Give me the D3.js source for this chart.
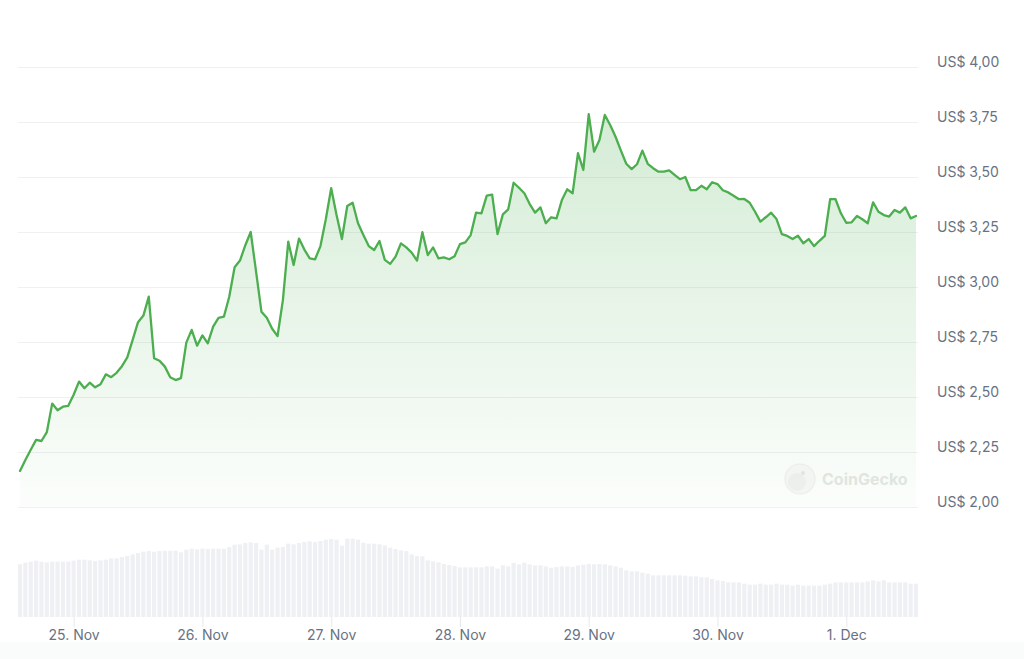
<!DOCTYPE html>
<html>
<head>
<meta charset="utf-8">
<script src="https://cdn.jsdelivr.net/npm/d3@7"></script>
<style>
  html, body { margin: 0; padding: 0; background: #ffffff; }
  svg { display: block; font-family: Inter, "Noto Sans", sans-serif; }
</style>
</head>
<body>
<svg id="chart" width="1024" height="659"></svg>
<script>
// ---------- DATA ----------
const startTime = "2024-11-24T14:00:00"; // first hourly sample
const prices = [
  2.164, 2.214, 2.26, 2.305, 2.30, 2.34, 2.47, 2.44, 2.456, 2.46,
  2.51, 2.57, 2.54, 2.565, 2.544, 2.558, 2.603, 2.59, 2.61, 2.64,
  2.68, 2.76, 2.84, 2.87, 2.956, 2.676, 2.665, 2.638, 2.59, 2.577,
  2.586, 2.747, 2.805, 2.733, 2.78, 2.744, 2.82, 2.86, 2.865, 2.956,
  3.09, 3.12, 3.19, 3.25, 3.07, 2.888, 2.86, 2.81, 2.777, 2.94,
  3.206, 3.10, 3.22, 3.17, 3.13, 3.126, 3.186, 3.308, 3.449, 3.327,
  3.218, 3.368, 3.383, 3.29, 3.236, 3.186, 3.168, 3.209, 3.123, 3.105,
  3.138, 3.198, 3.18, 3.156, 3.12, 3.249, 3.145, 3.18, 3.13, 3.135,
  3.126, 3.14, 3.195, 3.203, 3.236, 3.338, 3.335, 3.415, 3.42, 3.24,
  3.33, 3.353, 3.474, 3.451, 3.426, 3.377, 3.338, 3.362, 3.29, 3.317,
  3.312, 3.395, 3.444, 3.426, 3.608, 3.532, 3.786, 3.615, 3.668, 3.782,
  3.736, 3.683, 3.62, 3.56, 3.536, 3.558, 3.62, 3.56, 3.54, 3.524,
  3.524, 3.53, 3.51, 3.49, 3.50, 3.44, 3.44, 3.46, 3.444, 3.476,
  3.468, 3.44, 3.43, 3.415, 3.399, 3.40, 3.383, 3.342, 3.297, 3.317,
  3.338, 3.309, 3.24, 3.232, 3.218, 3.233, 3.199, 3.218, 3.186, 3.21,
  3.232, 3.399, 3.399, 3.335, 3.292, 3.294, 3.323, 3.308, 3.29, 3.385,
  3.342, 3.327, 3.32, 3.35, 3.338, 3.362, 3.312, 3.323
];
// hourly traded volume (millions US$, estimated)
const volumes = [
  158,163,166,169,166,164,166,166,166,166,169,172,172,170,168,170,172,176,176,180,
  183,188,192,196,198,196,198,199,199,199,194,202,205,203,205,204,205,205,205,210,
  217,218,222,224,222,202,217,202,208,210,220,218,222,225,227,225,228,232,234,232,
  214,235,235,232,223,220,220,218,215,208,204,200,198,188,183,182,170,167,164,159,
  156,153,149,149,149,149,149,152,152,145,155,152,
  162,158,163,158,155,155,152,148,150,152,152,150,155,157,159,158,159,158,155,152,
  148,140,137,137,133,130,125,125,125,125,125,125,124,122,122,119,119,114,110,108,
  104,104,104,100,97,97,100,97,97,100,97,97,94,97,94,94,94,94,97,100,
  104,104,104,104,104,104,107,110,107,110,104,104,104,104,100,100
];
const priceTicks = [2.00, 2.25, 2.50, 2.75, 3.00, 3.25, 3.50, 3.75, 4.00];
const priceDomain = [2, 4];
const volumeDomain = [0, 300];
const currencyPrefix = "US$ ";
const watermark = "CoinGecko";

// ---------- LAYOUT ----------
const plot = { left: 20, right: 916, top: 67, bottom: 507 };
const vol = { top: 517, bottom: 617 };
const gridX = [18, 918];

const svg = d3.select("#chart");
const t0 = new Date(startTime);
const times = prices.map((_, i) => d3.timeHour.offset(t0, i));
const series = prices.map((p, i) => ({ t: times[i], p, v: volumes[i] }));

const x = d3.scaleTime().domain(d3.extent(times)).range([plot.left, plot.right]);
const y = d3.scaleLinear().domain(priceDomain).range([plot.bottom, plot.top]);
const yv = d3.scaleLinear().domain(volumeDomain).range([vol.bottom, vol.top]);

// bottom faint band
svg.append("rect").attr("x", 0).attr("y", 642).attr("width", 1024).attr("height", 17)
  .attr("fill", "#fafbfb");

// gradient
const defs = svg.append("defs");
const grad = defs.append("linearGradient").attr("id", "areaGrad")
  .attr("gradientUnits", "userSpaceOnUse")
  .attr("x1", 0).attr("x2", 0).attr("y1", y(3.8)).attr("y2", plot.bottom);
grad.append("stop").attr("offset", 0).attr("stop-color", "#4caf50").attr("stop-opacity", 0.24);
grad.append("stop").attr("offset", 1).attr("stop-color", "#4caf50").attr("stop-opacity", 0.02);

// gridlines
svg.append("g").selectAll("line").data(priceTicks).join("line")
  .attr("x1", gridX[0]).attr("x2", gridX[1])
  .attr("y1", d => Math.round(y(d)) + 0.5).attr("y2", d => Math.round(y(d)) + 0.5)
  .attr("stroke", "#eef0f2").attr("stroke-width", 1);

// volume bars
const bw = (x(times[1]) - x(times[0])) * 0.78;
svg.append("g").selectAll("rect").data(series).join("rect")
  .attr("x", d => x(d.t) - bw / 2)
  .attr("width", bw)
  .attr("y", d => yv(d.v))
  .attr("height", d => yv(0) - yv(d.v))
  .attr("fill", "#eef0f4");

// area + line
const area = d3.area().x(d => x(d.t)).y0(plot.bottom).y1(d => y(d.p));
svg.append("path").datum(series).attr("d", area).attr("fill", "url(#areaGrad)");
const line = d3.line().x(d => x(d.t)).y(d => y(d.p));
svg.append("path").datum(series).attr("d", line)
  .attr("fill", "none").attr("stroke", "#4cae4f").attr("stroke-width", 2.3)
  .attr("stroke-linejoin", "round").attr("stroke-linecap", "round");

// watermark
const wm = svg.append("g").attr("opacity", 0.55);
wm.append("circle").attr("cx", 800).attr("cy", 479).attr("r", 15)
  .attr("fill", "#eef1ee").attr("stroke", "#dfe3df").attr("stroke-width", 1.2);
wm.append("circle").attr("cx", 797).attr("cy", 482).attr("r", 9).attr("fill", "#e2e6e2");
wm.append("circle").attr("cx", 803).attr("cy", 473).attr("r", 2).attr("fill", "#cfd4cf");
wm.append("text").attr("x", 822).attr("y", 485).text(watermark)
  .attr("font-size", 16).attr("font-weight", 700).attr("fill", "#cdd3cd");

// y axis labels (right)
const yAxis = d3.axisRight(y).tickValues(priceTicks).tickSize(0).tickPadding(0)
  .tickFormat(d => currencyPrefix + d.toFixed(2).replace(".", ","));
const gy = svg.append("g").attr("transform", "translate(937,-4.8)").call(yAxis);
gy.select(".domain").remove();
gy.selectAll("text").attr("font-size", 14).attr("fill", "#687282")
  .attr("font-family", "Inter, 'Noto Sans', sans-serif");

// x axis
const xAxis = d3.axisBottom(x).ticks(d3.timeDay.every(1)).tickSize(10).tickPadding(3)
  .tickFormat(d => d3.timeFormat("%-d. %b")(d));
const gx = svg.append("g").attr("transform", `translate(0,${vol.bottom})`).call(xAxis);
gx.select(".domain").remove();
gx.selectAll(".tick line").attr("stroke", "#e6e8eb");
gx.selectAll("text").attr("font-size", 14).attr("fill", "#687282")
  .attr("font-family", "Inter, 'Noto Sans', sans-serif");
</script>
</body>
</html>
